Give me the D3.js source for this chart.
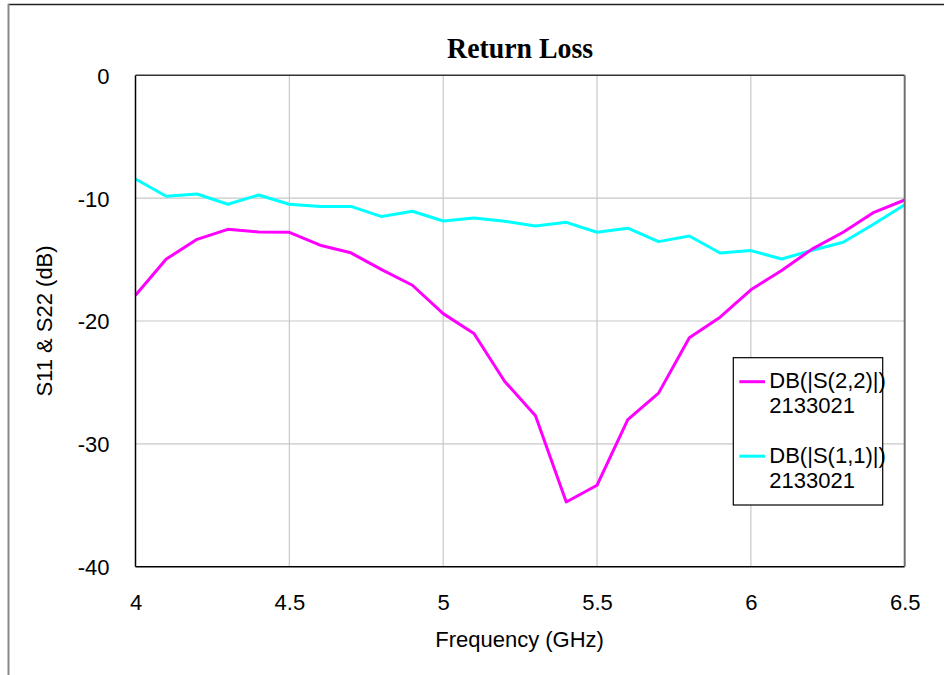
<!DOCTYPE html>
<html>
<head>
<meta charset="utf-8">
<script src="https://cdn.jsdelivr.net/npm/d3@7"></script>
<style>
  body { margin: 0; background: #fff; }
  svg { display: block; }
</style>
</head>
<body>
<div id="chart"></div>
<script>
// frequency points (GHz)
const freq = [4.0, 4.1, 4.2, 4.3, 4.4, 4.5, 4.6, 4.7, 4.8, 4.9, 5.0, 5.1, 5.2,
              5.3, 5.4, 5.5, 5.6, 5.7, 5.8, 5.9, 6.0, 6.1, 6.2, 6.3, 6.4, 6.5];
// DB(|S(2,2)|)
const s22 = [-17.9, -14.96, -13.35, -12.54, -12.75, -12.78, -13.83, -14.45, -15.82, -17.09,
             -19.4, -21.02, -24.92, -27.71, -34.73, -33.37, -28.03, -25.87, -21.37, -19.69,
             -17.46, -15.89, -14.13, -12.78, -11.15, -10.15];
// DB(|S(1,1)|)
const s11 = [-8.44, -9.85, -9.66, -10.5, -9.74, -10.5, -10.67, -10.67, -11.5, -11.07,
             -11.86, -11.62, -11.88, -12.26, -11.97, -12.78, -12.45, -13.54, -13.08, -14.46,
             -14.27, -14.95, -14.24, -13.59, -12.1, -10.53];
const xTicks = [4, 4.5, 5, 5.5, 6, 6.5];
const yTicks = [0, -10, -20, -30, -40];
const legendLabels = ["DB(|S(2,2)|)", "DB(|S(1,1)|)"];
const legendSub = "2133021";

const W = 944, H = 675;
const margin = { top: 75.3, right: 39.3, bottom: 108.3, left: 135.5 };
const width = W - margin.left - margin.right;
const height = H - margin.top - margin.bottom;

const svg = d3.select("#chart").append("svg")
    .attr("width", W)
    .attr("height", H);

// outer frame (top + left only, as in the picture)
svg.append("line").attr("x1", 8).attr("x2", W).attr("y1", 4.5).attr("y2", 4.5)
    .attr("stroke", "#222").attr("stroke-width", 1.5);
svg.append("line").attr("x1", 8.5).attr("x2", 8.5).attr("y1", 4).attr("y2", H)
    .attr("stroke", "#888").attr("stroke-width", 2);

const g = svg.append("g")
    .attr("transform", `translate(${margin.left},${margin.top})`);

const x = d3.scaleLinear().domain([4, 6.5]).range([0, width]);
const y = d3.scaleLinear().domain([-40, 0]).range([height, 0]);

// grid
g.append("g")
    .selectAll("line")
    .data(xTicks.slice(1, -1))
    .join("line")
    .attr("x1", d => x(d)).attr("x2", d => x(d))
    .attr("y1", 0).attr("y2", height)
    .attr("stroke", "#c8c8c8").attr("stroke-width", 1.2);
g.append("g")
    .selectAll("line")
    .data(yTicks.slice(1, -1))
    .join("line")
    .attr("x1", 0).attr("x2", width)
    .attr("y1", d => y(d)).attr("y2", d => y(d))
    .attr("stroke", "#c8c8c8").attr("stroke-width", 1.2);

// tick labels via axes, no lines (plain hyphen for negatives)
const fmt = d => String(d);
const xAxis = g.append("g")
    .attr("transform", `translate(0,${height})`)
    .call(d3.axisBottom(x).tickValues(xTicks).tickFormat(fmt).tickSize(0).tickPadding(28));
const yAxis = g.append("g")
    .call(d3.axisLeft(y).tickValues(yTicks).tickFormat(fmt).tickSize(0).tickPadding(26));
[xAxis, yAxis].forEach(a => {
    a.select(".domain").remove();
    a.selectAll("text")
        .attr("font-family", "Liberation Sans, Arial, sans-serif")
        .attr("font-size", 22)
        .attr("fill", "#000");
});
yAxis.selectAll("text").attr("dy", "0.36em");

// lines
const line = d3.line()
    .x((d, i) => x(freq[i]))
    .y(d => y(d));

g.append("path")
    .datum(s11)
    .attr("d", line)
    .attr("fill", "none")
    .attr("stroke", "#00ffff")
    .attr("stroke-width", 3)
    .attr("stroke-linejoin", "round");

g.append("path")
    .datum(s22)
    .attr("d", line)
    .attr("fill", "none")
    .attr("stroke", "#ff00ff")
    .attr("stroke-width", 3)
    .attr("stroke-linejoin", "round");

// plot frame
g.append("line").attr("x1", 0).attr("x2", 0).attr("y1", 0).attr("y2", height)
    .attr("stroke", "#000").attr("stroke-width", 1.5);
g.append("line").attr("x1", 0).attr("x2", width).attr("y1", 0).attr("y2", 0)
    .attr("stroke", "#333").attr("stroke-width", 1.5);
g.append("line").attr("x1", 0).attr("x2", width).attr("y1", height).attr("y2", height)
    .attr("stroke", "#000").attr("stroke-width", 1.5);
g.append("line").attr("x1", width).attr("x2", width).attr("y1", 0).attr("y2", height)
    .attr("stroke", "#707070").attr("stroke-width", 2);

// title
svg.append("text")
    .attr("x", margin.left + width / 2)
    .attr("y", 58.3)
    .attr("text-anchor", "middle")
    .attr("font-family", "Liberation Serif, Times New Roman, serif")
    .attr("font-weight", "bold")
    .attr("font-size", 29)
    .attr("textLength", 146)
    .attr("lengthAdjust", "spacingAndGlyphs")
    .text("Return Loss");

// axis titles
svg.append("text")
    .attr("x", margin.left + width / 2 - 0.5)
    .attr("y", 646.5)
    .attr("text-anchor", "middle")
    .attr("font-family", "Liberation Sans, Arial, sans-serif")
    .attr("font-size", 22)
    .text("Frequency (GHz)");

svg.append("text")
    .attr("transform", `translate(51.5,${margin.top + height / 2}) rotate(-90)`)
    .attr("text-anchor", "middle")
    .attr("font-family", "Liberation Sans, Arial, sans-serif")
    .attr("font-size", 22)
    .text("S11 & S22 (dB)");

// legend
const legend = svg.append("g").attr("transform", "translate(733.3,357.7)");
legend.append("rect")
    .attr("width", 149.4).attr("height", 147.3)
    .attr("fill", "#fff").attr("stroke", "#000").attr("stroke-width", 1.2);
const colors = ["#ff00ff", "#00ffff"];
legendLabels.forEach((lab, i) => {
    const item = legend.append("g").attr("transform", `translate(0,${i * 74.5})`);
    item.append("line")
        .attr("x1", 6).attr("x2", 31.7).attr("y1", 24).attr("y2", 24)
        .attr("stroke", colors[i]).attr("stroke-width", 3);
    item.append("text")
        .attr("x", 36).attr("y", 30.6)
        .attr("font-family", "Liberation Sans, Arial, sans-serif")
        .attr("font-size", 22)
        .text(lab);
    item.append("text")
        .attr("x", 36).attr("y", 55.6)
        .attr("font-family", "Liberation Sans, Arial, sans-serif")
        .attr("font-size", 22)
        .text(legendSub);
});
</script>
</body>
</html>
